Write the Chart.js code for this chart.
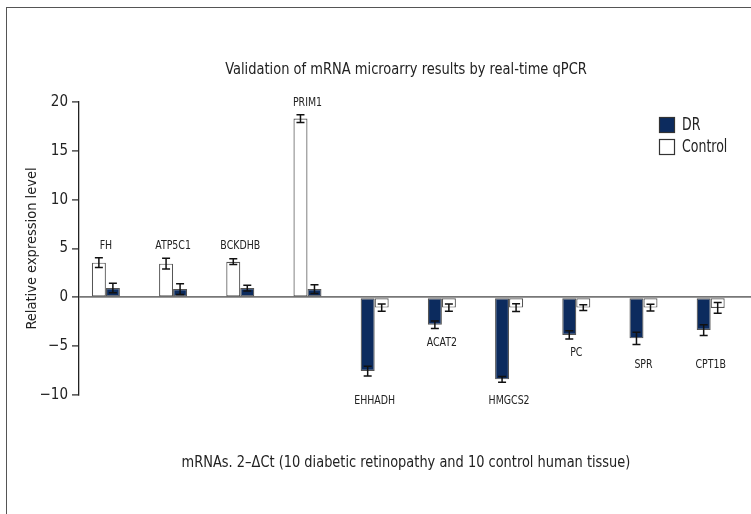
<!DOCTYPE html>
<html lang="en">
<head>
<meta charset="UTF-8">
<title>Validation of mRNA microarry results by real-time qPCR</title>
<script src="https://cdn.jsdelivr.net/npm/chart.js"></script>
<style>
  html, body { margin: 0; padding: 0; background: #fff; }
  #frame {
    position: absolute; left: 6px; top: 7px; right: 0; bottom: 0;
    border-left: 1px solid #555; border-top: 1px solid #555;
  }
  #chart { position: absolute; left: 0; top: 0; }
</style>
</head>
<body>
<div id="frame"></div>
<canvas id="chart" width="751" height="514"></canvas>
<script>
// values (2^-dCt, mean and error)
const genes = ['FH', 'ATP5C1', 'BCKDHB', 'PRIM1', 'EHHADH', 'ACAT2', 'HMGCS2', 'PC', 'SPR', 'CPT1B'];
const drValues = [0.95, 0.85, 0.95, 0.85, -7.55, -2.8, -8.4, -3.85, -4.2, -3.35];
const drErrors = [0.48, 0.55, 0.3, 0.45, 0.5, 0.38, 0.3, 0.42, 0.62, 0.55];
const controlValues = [3.55, 3.45, 3.65, 18.3, -1.05, -1.05, -1.05, -1.05, -1.05, -1.08];
const controlErrors = [0.5, 0.55, 0.3, 0.4, 0.38, 0.38, 0.4, 0.3, 0.35, 0.56];
// where each gene name sits, in axis units
const labelAt = [5.25, 5.25, 5.25, 19.9, -10.6, -4.7, -10.6, -5.7, -6.9, -6.9];
const yTicks = [-10, -5, 0, 5, 10, 15, 20];

const FONT = '"DejaVu Sans Condensed", "Liberation Sans Narrow", sans-serif';
const NAVY = '#0c2b5e';
const INK = '#222';

// up-regulated genes show Control first, down-regulated ones DR first
const controlLeft = drValues.map(v => v > 0);
const pick = (i, left) => (controlLeft[i] === left)
  ? { v: controlValues[i], e: controlErrors[i], fill: '#fff' }
  : { v: drValues[i], e: drErrors[i], fill: NAVY };
const leftBars = genes.map((_, i) => pick(i, true));
const rightBars = genes.map((_, i) => pick(i, false));

function barSet(bars) {
  return {
    data: bars.map((b, i) => ({ x: i, y: b.v })),
    errors: bars.map(b => b.e),
    backgroundColor: bars.map(b => b.fill),
    borderColor: '#555',
    borderWidth: 1.2,
    borderSkipped: false,
    barPercentage: 1,
    categoryPercentage: 0.417
  };
}

// squeeze text sideways so it looks like the condensed face of the original
function narrowText(ctx, text, x, y, size, squeeze) {
  ctx.save();
  ctx.translate(x, y);
  ctx.scale(squeeze, 1);
  ctx.font = size + 'px ' + FONT;
  ctx.fillText(text, 0, 0);
  ctx.restore();
}

const errorBars = {
  id: 'errorBars',
  afterDatasetsDraw(chart) {
    const ctx = chart.ctx, y = chart.scales.y;
    ctx.save();
    ctx.strokeStyle = '#111';
    ctx.lineWidth = 1.5;
    chart.data.datasets.forEach((ds, di) => {
      chart.getDatasetMeta(di).data.forEach((bar, i) => {
        const v = ds.data[i].y, e = ds.errors[i];
        const top = y.getPixelForValue(v + e), bot = y.getPixelForValue(v - e);
        ctx.beginPath();
        ctx.moveTo(bar.x, top); ctx.lineTo(bar.x, bot);
        ctx.moveTo(bar.x - 4, top); ctx.lineTo(bar.x + 4, top);
        ctx.moveTo(bar.x - 4, bot); ctx.lineTo(bar.x + 4, bot);
        ctx.stroke();
      });
    });
    ctx.restore();
  }
};

const annotations = {
  id: 'annotations',
  afterDraw(chart) {
    const ctx = chart.ctx, x = chart.scales.x, y = chart.scales.y;
    ctx.save();
    ctx.fillStyle = INK;
    ctx.textAlign = 'center';
    ctx.textBaseline = 'middle';
    genes.forEach((g, i) =>
      narrowText(ctx, g, x.getPixelForValue(i), y.getPixelForValue(labelAt[i]), 11.5, 0.91));

    ctx.textBaseline = 'alphabetic';
    narrowText(ctx, 'Validation of mRNA microarry results by real-time qPCR', 406, 74, 15.5, 0.935);
    narrowText(ctx, 'mRNAs. 2\u2013\u0394Ct (10 diabetic retinopathy and 10 control human tissue)', 406, 467, 15.5, 0.93);

    // legend
    ctx.textAlign = 'left';
    ctx.textBaseline = 'middle';
    ctx.lineWidth = 1.2;
    ctx.strokeStyle = '#333';
    [['DR', NAVY, 117], ['Control', '#fff', 139]].forEach(([name, fill, top]) => {
      ctx.fillStyle = fill;
      ctx.fillRect(659.5, top + 0.5, 15, 15);
      ctx.strokeRect(659.5, top + 0.5, 15, 15);
      ctx.fillStyle = INK;
      narrowText(ctx, name, 682, top + 9, 17, 0.82);
    });
    ctx.restore();
  }
};

new Chart(document.getElementById('chart'), {
  type: 'bar',
  data: { datasets: [barSet(leftBars), barSet(rightBars)] },
  options: {
    responsive: false,
    animation: false,
    layout: { padding: { top: 102, bottom: 119, left: 0, right: 0 } },
    plugins: { legend: { display: false }, tooltip: { enabled: false } },
    scales: {
      x: { type: 'linear', min: -0.4, max: 9.6, offset: false, display: false },
      y: {
        min: -10, max: 20,
        afterBuildTicks: s => { s.ticks = yTicks.map(v => ({ value: v })); },
        afterFit: s => { s.width = 79; },
        ticks: {
          color: INK, padding: 4,
          font: { family: FONT, size: 15 },
          callback: v => String(v).replace('-', '\u2212')
        },
        grid: {
          color: c => (c.tick && c.tick.value === 0) ? '#777' : 'rgba(0,0,0,0)',
          lineWidth: 1.8,
          tickColor: INK, tickWidth: 1.2, tickLength: 7
        },
        border: { display: true, color: INK, width: 1.3 },
        title: {
          display: true, text: 'Relative expression level', color: INK,
          font: { family: FONT, size: 14.5 }, padding: { top: 24, bottom: 0 }
        }
      }
    }
  },
  plugins: [errorBars, annotations]
});
</script>
</body>
</html>
